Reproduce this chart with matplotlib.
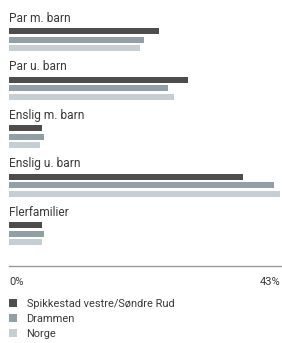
import matplotlib
matplotlib.use('Agg')
import matplotlib.pyplot as plt
from matplotlib.patches import Patch
import numpy as np

categories = ['Par m. barn', 'Par u. barn', 'Enslig m. barn', 'Enslig u. barn', 'Flerfamilier']
series = ['Spikkestad vestre/Søndre Rud', 'Drammen', 'Norge']
spikkestad = [23.7, 28.3, 5.2, 37.0, 5.2]
drammen = [21.3, 25.1, 5.5, 41.9, 5.5]
norge = [20.7, 26.1, 4.9, 42.8, 5.2]
x_max = 43
tick_labels = ['0%', '43%']

colors = ['#4d4d4d', '#919fa6', '#c5ced3']
text_color = '#3a3a3a'

plt.rcParams['font.family'] = ['Roboto', 'DejaVu Sans']

fig = plt.figure(figsize=(2.82, 3.43), dpi=100)
# axes spans the bar area, bottom edge is the axis line
ax = fig.add_axes([9 / 282, (343 - 266) / 343, 272 / 282, 266 / 343])

pitch = 48.5          # pixels per group
first = 31 / pitch    # centre of first bar
step = 8.5 / pitch    # offset between bars in a group
height = 6 / pitch

y = np.arange(len(categories)) + first
for k, vals in enumerate([spikkestad, drammen, norge]):
    ax.barh(y + k * step, vals, height=height, color=colors[k], linewidth=0)

for i, name in enumerate(categories):
    ax.text(0, y[i] - 9 / pitch, name, ha='left', va='baseline',
            fontsize=8.6, color=text_color)

ax.set_xlim(0, x_max)
ax.set_ylim(266 / pitch, 0)
ax.set_yticks([])
ax.set_xticks([0, x_max])
ax.set_xticklabels(tick_labels, fontsize=8, color=text_color)
lbls = ax.get_xticklabels()
lbls[0].set_ha('left')
lbls[1].set_ha('right')
ax.tick_params(axis='x', length=0, pad=8)
for s in ['top', 'left', 'right']:
    ax.spines[s].set_visible(False)
ax.spines['bottom'].set_color('#9a9a9a')
ax.spines['bottom'].set_linewidth(1)
ax.patch.set_alpha(0)

handles = [Patch(facecolor=c, edgecolor='none') for c in colors]
leg = fig.legend(handles, series, loc='upper left',
                 bbox_to_anchor=(9 / 282, 1 - 299 / 343),
                 frameon=False, fontsize=7.9, handlelength=0.7, handleheight=0.7,
                 handletextpad=0.9, labelspacing=0.45, borderpad=0, borderaxespad=0)
for t in leg.get_texts():
    t.set_color(text_color)

fig.savefig('out.png', dpi=100)
